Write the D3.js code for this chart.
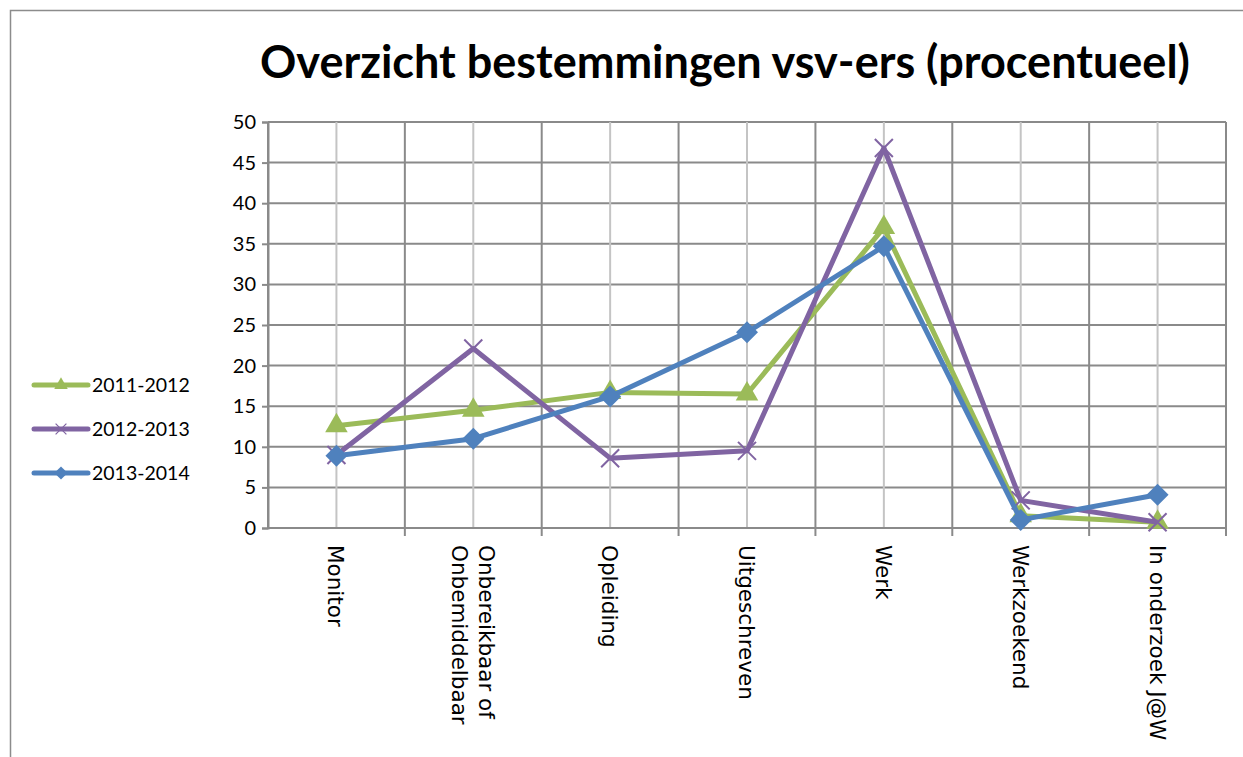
<!DOCTYPE html>
<html>
<head>
<meta charset="utf-8">
<script src="https://cdn.jsdelivr.net/npm/d3@7"></script>
<style>
  body { margin: 0; background: #fff; }
  text { fill: #000; }
</style>
</head>
<body>
<script>
var categories = ["Monitor", "Onbereikbaar of|Onbemiddelbaar", "Opleiding", "Uitgeschreven", "Werk", "Werkzoekend", "In onderzoek J@W"];
var years = ["2011-2012", "2012-2013", "2013-2014"];
var values2011 = [12.6, 14.5, 16.7, 16.5, 37.0, 1.5, 0.7];
var values2012 = [9.0, 22.1, 8.6, 9.5, 46.8, 3.4, 0.7];
var values2013 = [8.9, 11.0, 16.2, 24.1, 34.7, 1.0, 4.1];
var yTicks = [0, 5, 10, 15, 20, 25, 30, 35, 40, 45, 50];
var colors = ["#9BBB59", "#8064A2", "#4F81BD"];
var symbols = ["triangle", "cross", "diamond"];

var series = [values2011, values2012, values2013];

var w = 1243, h = 757;
var plotLeft = 268, plotRight = 1226, plotTop = 122, plotBottom = 528;

var svg = d3.select("body").append("svg")
  .attr("width", w)
  .attr("height", h);

// chart border
svg.append("path")
  .attr("d", "M10.5," + h + "V10.5H" + w)
  .attr("fill", "none")
  .attr("stroke", "#8c8c8c")
  .attr("stroke-width", 1.5);

var x = d3.scaleBand().domain(categories).range([plotLeft, plotRight]);
var y = d3.scaleLinear().domain([0, 50]).range([plotBottom, plotTop]);

// horizontal gridlines
svg.append("g").selectAll("line")
  .data(yTicks)
  .enter().append("line")
  .attr("x1", plotLeft).attr("x2", plotRight)
  .attr("y1", function(d) { return y(d); })
  .attr("y2", function(d) { return y(d); })
  .attr("stroke", "#8a8a8a")
  .attr("stroke-width", 2);

// vertical gridlines at category centres (light)
svg.append("g").selectAll("line")
  .data(categories)
  .enter().append("line")
  .attr("x1", function(d) { return x(d) + x.bandwidth() / 2; })
  .attr("x2", function(d) { return x(d) + x.bandwidth() / 2; })
  .attr("y1", plotTop).attr("y2", plotBottom)
  .attr("stroke", "#c4c4c4")
  .attr("stroke-width", 2);

// vertical gridlines at category boundaries (dark)
var bounds = categories.map(function(d) { return x(d); }).concat([plotRight]);
svg.append("g").selectAll("line")
  .data(bounds)
  .enter().append("line")
  .attr("x1", function(d) { return d; })
  .attr("x2", function(d) { return d; })
  .attr("y1", plotTop).attr("y2", function(d, i) { return i === 0 ? plotBottom : plotBottom + 8; })
  .attr("stroke", "#8a8a8a")
  .attr("stroke-width", 2);

// y axis
var yAxis = svg.append("g")
  .attr("transform", "translate(" + plotLeft + ",0)")
  .call(d3.axisLeft(y).tickValues(yTicks).tickSize(6).tickPadding(6));
yAxis.select(".domain").attr("stroke", "#8a8a8a").attr("stroke-width", 2);
yAxis.selectAll(".tick line").attr("stroke", "#8a8a8a").attr("stroke-width", 2);
yAxis.selectAll(".tick text")
  .attr("font-family", "Lato, sans-serif")
  .attr("font-size", 20)
  .attr("fill", "#000");

// x axis line
svg.append("line")
  .attr("x1", plotLeft).attr("x2", plotRight)
  .attr("y1", plotBottom).attr("y2", plotBottom)
  .attr("stroke", "#8a8a8a")
  .attr("stroke-width", 2);

// category labels, rotated
var labels = svg.append("g").selectAll("text")
  .data(categories)
  .enter().append("text")
  .attr("transform", function(d) {
    return "translate(" + (x(d) + x.bandwidth() / 2) + "," + (plotBottom + 17) + ") rotate(90)";
  })
  .style("font-family", "DejaVu Sans")
  .attr("font-size", 21.5)
  .attr("text-anchor", "start");

labels.each(function(d) {
  var parts = d.split("|");
  var t = d3.select(this);
  var n = parts.length;
  parts.forEach(function(p, i) {
    t.append("tspan")
      .attr("x", 0)
      .attr("y", (i - (n - 1) / 2) * 27 + 8)
      .text(p);
  });
});

// series lines and markers
var line = d3.line()
  .x(function(d, i) { return x(categories[i]) + x.bandwidth() / 2; })
  .y(function(d) { return y(d); });

function marker(sel, kind, color) {
  if (kind === "triangle") {
    sel.append("path")
      .attr("d", d3.symbol().type(d3.symbolTriangle).size(220))
      .attr("fill", color);
  } else if (kind === "diamond") {
    sel.append("path")
      .attr("d", "M0,-11L11,0L0,11L-11,0Z")
      .attr("fill", color);
  } else {
    sel.append("path")
      .attr("d", "M-9,-9L9,9M-9,9L9,-9")
      .attr("stroke", color)
      .attr("stroke-width", 2);
  }
}

series.forEach(function(vals, s) {
  svg.append("path")
    .datum(vals)
    .attr("d", line)
    .attr("fill", "none")
    .attr("stroke", colors[s])
    .attr("stroke-width", 5)
    .attr("stroke-linejoin", "round");

  svg.append("g").selectAll("g")
    .data(vals)
    .enter().append("g")
    .attr("transform", function(d, i) {
      return "translate(" + (x(categories[i]) + x.bandwidth() / 2) + "," + y(d) + ")";
    })
    .each(function() { marker(d3.select(this), symbols[s], colors[s]); });
});

// legend
var legend = svg.append("g").selectAll("g")
  .data(years)
  .enter().append("g")
  .attr("transform", function(d, i) { return "translate(0," + (385 + i * 44) + ")"; });

legend.append("line")
  .attr("x1", 34).attr("x2", 88)
  .attr("stroke", function(d, i) { return colors[i]; })
  .attr("stroke-width", 5)
  .attr("stroke-linecap", "round");

legend.each(function(d, i) {
  var g = d3.select(this).append("g").attr("transform", "translate(61,0) scale(0.6)");
  marker(g, symbols[i], colors[i]);
});

legend.append("text")
  .attr("x", 92)
  .attr("y", 7)
  .attr("font-family", "Lato, sans-serif")
  .attr("font-size", 19.5)
  .text(function(d) { return d; });

// title
svg.append("text")
  .attr("x", 725)
  .attr("y", 78)
  .attr("text-anchor", "middle")
  .attr("font-family", "Lato, sans-serif")
  .attr("font-weight", "bold")
  .attr("font-size", 45)
  .text("Overzicht bestemmingen vsv-ers (procentueel)");
</script>
</body>
</html>
